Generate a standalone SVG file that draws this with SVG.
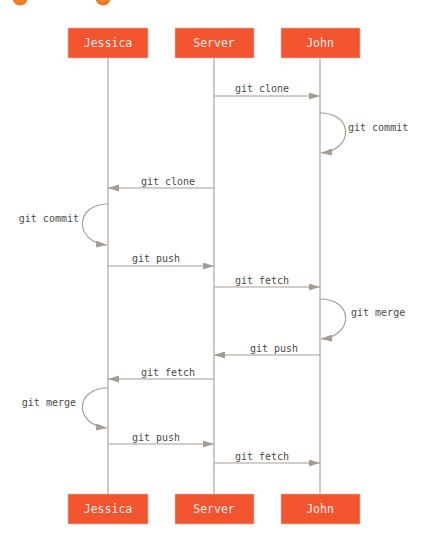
<svg xmlns="http://www.w3.org/2000/svg" width="430" height="540" viewBox="0 0 430 540">
<style>
.box{fill:#f25430;stroke:#e8b8a8;stroke-width:0.6}
.bt{font-family:"DejaVu Sans Mono",monospace;font-size:11.5px;fill:#f6ece6;text-anchor:middle}
.life{stroke:#b3aea6;stroke-width:1.3;fill:none}
.arr{stroke:#a39d95;stroke-width:1.2;fill:none;marker-end:url(#ah)}
.lb{font-family:"DejaVu Sans Mono",monospace;font-size:10px;fill:#4a4a4a}
.c{text-anchor:middle}
.e{text-anchor:end}
</style>
<defs>
<marker id="ah" viewBox="0 0 11 7" refX="11" refY="3.5" markerWidth="11" markerHeight="7" markerUnits="userSpaceOnUse" orient="auto">
<path d="M0,0 L11,3.5 L0,7 Z" fill="#a39d95"/>
</marker>
<radialGradient id="og" cx="0.45" cy="0.3" r="0.7">
<stop offset="0" stop-color="#f7a04a"/>
<stop offset="1" stop-color="#e8731c"/>
</radialGradient>
</defs>
<ellipse cx="20" cy="-2" rx="7.5" ry="7.5" fill="url(#og)"/>
<ellipse cx="103" cy="-2" rx="7.5" ry="7.5" fill="url(#og)"/>
<g id="lifelines">
<line class="life" x1="108" y1="58" x2="108" y2="494"/>
<line class="life" x1="214" y1="58" x2="214" y2="494"/>
<line class="life" x1="320" y1="58" x2="320" y2="494"/>
</g>
<g id="jessica-top"><rect class="box" x="68" y="28" width="80" height="30"/><text class="bt" x="108" y="47">Jessica</text></g>
<g id="server-top"><rect class="box" x="175" y="28" width="79" height="30"/><text class="bt" x="214" y="47">Server</text></g>
<g id="john-top"><rect class="box" x="281" y="28" width="79" height="30"/><text class="bt" x="320" y="47">John</text></g>
<g id="jessica-bottom"><rect class="box" x="68" y="494" width="80" height="30"/><text class="bt" x="108" y="513">Jessica</text></g>
<g id="server-bottom"><rect class="box" x="175" y="494" width="79" height="30"/><text class="bt" x="214" y="513">Server</text></g>
<g id="john-bottom"><rect class="box" x="281" y="494" width="79" height="30"/><text class="bt" x="320" y="513">John</text></g>
<g id="connectors">
<line class="arr" x1="214" y1="96" x2="320" y2="96"/>
<path class="arr" d="M320,113 C354,113 354,150 321,153"/>
<line class="arr" x1="214" y1="188" x2="108" y2="188"/>
<path class="arr" d="M108,204 C74,204 74,242 107,245"/>
<line class="arr" x1="108" y1="266" x2="214" y2="266"/>
<line class="arr" x1="214" y1="287" x2="320" y2="287"/>
<path class="arr" d="M320,299 C354,299 354,336 321,339"/>
<line class="arr" x1="320" y1="355" x2="214" y2="355"/>
<line class="arr" x1="214" y1="379" x2="108" y2="379"/>
<path class="arr" d="M108,388 C74,388 74,425 107,428"/>
<line class="arr" x1="108" y1="444" x2="214" y2="444"/>
<line class="arr" x1="214" y1="463" x2="320" y2="463"/>
</g>
<g id="labels">
<text class="lb c" x="262" y="92">git clone</text>
<text class="lb" x="348" y="131">git commit</text>
<text class="lb c" x="168" y="185">git clone</text>
<text class="lb e" x="79" y="222">git commit</text>
<text class="lb c" x="156" y="262">git push</text>
<text class="lb c" x="262" y="284">git fetch</text>
<text class="lb" x="351" y="316">git merge</text>
<text class="lb c" x="274" y="352">git push</text>
<text class="lb c" x="168" y="376">git fetch</text>
<text class="lb e" x="76" y="406">git merge</text>
<text class="lb c" x="156" y="441">git push</text>
<text class="lb c" x="262" y="460">git fetch</text>
</g>
</svg>
